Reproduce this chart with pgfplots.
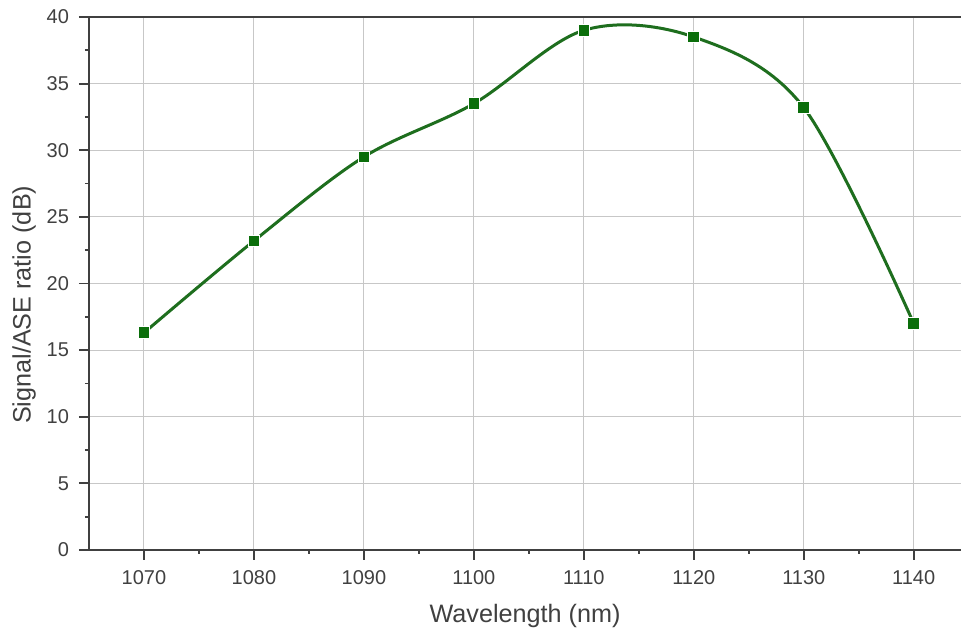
\documentclass[border=0pt]{standalone}
\usepackage{pgfplots}
\pgfplotsset{compat=1.18}
\usepackage{fontspec}
\setmainfont{Liberation Sans}
\definecolor{txt}{HTML}{404040}
\definecolor{lgreen}{HTML}{1E6E1E}
\definecolor{mgreen}{HTML}{0B6E0B}
\begin{document}
\begin{tikzpicture}
\begin{axis}[
  name=ax,
  scale only axis,
  width=436pt, height=266.5pt,
  xmin=1065, xmax=1144.3,
  ymin=0, ymax=40,
  axis x line*=box,
  axis y line*=left,
  axis line style={line width=0.9pt, color=black!75},
  xtick={1070,1080,...,1140},
  ytick={0,5,...,40},
  minor x tick num=1,
  minor y tick num=1,
  xtick pos=left, ytick pos=left,
  tick align=outside,
  major tick length=5pt,
  minor tick length=2pt,
  tick style={line width=0.9pt, color=black!75},
  grid=major,
  major grid style={line width=0.5pt, color=black!22},
  /pgf/number format/assume math mode=true,
  /pgf/number format/1000 sep={},
  ticklabel style={font=\fontsize{10pt}{12pt}\selectfont, text=txt},
  xticklabel style={yshift=-1.5pt},
  yticklabel style={xshift=-1.5pt},
  xlabel={Wavelength (nm)},
  ylabel={Signal/ASE ratio (dB)},
  label style={font=\fontsize{12.6pt}{15pt}\selectfont, text=txt},
  xlabel style={yshift=-3pt},
  ylabel style={at={(ticklabel cs:0.46)}},
  ylabel shift=-1.5pt,
  clip=false,
]
\addplot[color=lgreen, line width=1.5pt, smooth, tension=0.55,
  mark=square*, mark size=2.9pt, mark options={fill=mgreen, draw=white, line width=0.5pt}]
  coordinates {
  (1070,16.3) (1080,23.2) (1090,29.5) (1100,33.5) (1110,39.0) (1120,38.5) (1130,33.2) (1140,17.0)
  };
\end{axis}
\pgfresetboundingbox
\path (ax.south west) +(-44.5pt,-39pt) rectangle ([yshift=8.5pt]ax.north east);
\end{tikzpicture}
\end{document}
